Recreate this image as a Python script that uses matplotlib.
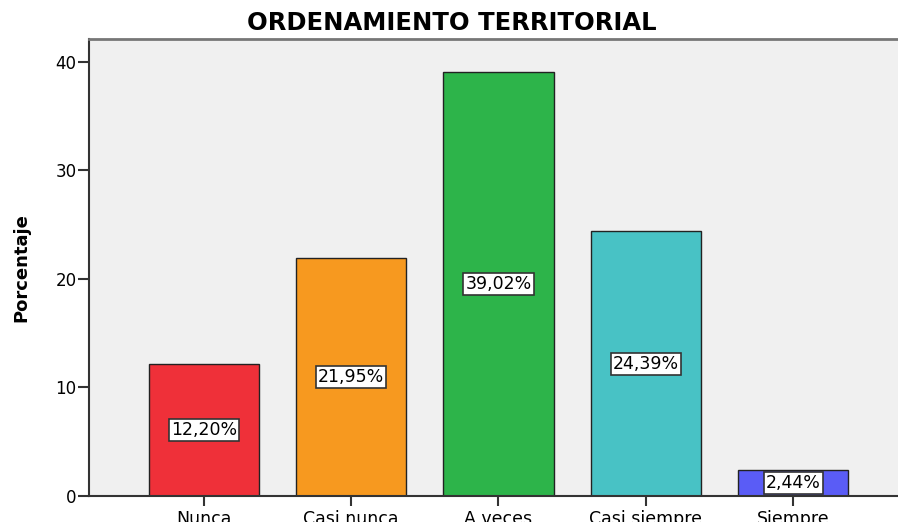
import matplotlib
matplotlib.use("Agg")
import matplotlib.pyplot as plt

categories = ["Nunca", "Casi nunca", "A veces", "Casi siempre", "Siempre"]
values = [12.20, 21.95, 39.02, 24.39, 2.44]
labels = ["12,20%", "21,95%", "39,02%", "24,39%", "2,44%"]
colors = ["#EF3039", "#F7991F", "#2DB44A", "#48C2C5", "#5A5CF6"]
yticks = [0, 10, 20, 30, 40]

plt.rcParams['font.family'] = ['DejaVu Sans']

W, H = 898, 522
fig = plt.figure(figsize=(W/100, H/100), dpi=100)
x0, x1, y0, y1 = 89, 908, 496, 39
ax = fig.add_axes([x0/W, 1 - y0/H, (x1-x0)/W, (y0-y1)/H])
ax.set_facecolor("#F0F0F0")

xs = list(range(len(categories)))
ax.bar(xs, values, width=0.747, color=colors, edgecolor="#222222", linewidth=1.0, zorder=2)
for x, v, lab in zip(xs, values, labels):
    ax.text(x, v/2, lab, ha="center", va="center", fontsize=12.5, zorder=3,
            bbox=dict(boxstyle="square,pad=0.12", facecolor="white", edgecolor="#333333", linewidth=1.2))

ax.set_xlim(-0.78, 4.78)
ax.set_ylim(0, 42.1)
ax.set_yticks(yticks)
ax.set_yticklabels([str(t) for t in yticks], fontsize=12)
ax.set_xticks(xs)
ax.set_xticklabels(categories, fontsize=12.5)
ax.tick_params(axis="y", direction="out", length=8, width=1.5, color="#333333", pad=1)
ax.tick_params(axis="x", direction="out", length=7, width=1.5, color="#333333", pad=3)
for s in ["left", "bottom"]:
    ax.spines[s].set_linewidth(1.5)
    ax.spines[s].set_color("#333333")
ax.spines["top"].set_linewidth(2)
ax.spines["top"].set_color("#777777")
ax.spines["right"].set_visible(False)

ax.set_ylabel("Porcentaje", fontsize=13, fontweight="bold", labelpad=18)
fig.text(452/W, 1 - 23/H, "ORDENAMIENTO TERRITORIAL", ha="center", va="center",
         fontsize=17.5, fontweight="bold")

fig.savefig("out.png", dpi=100)
